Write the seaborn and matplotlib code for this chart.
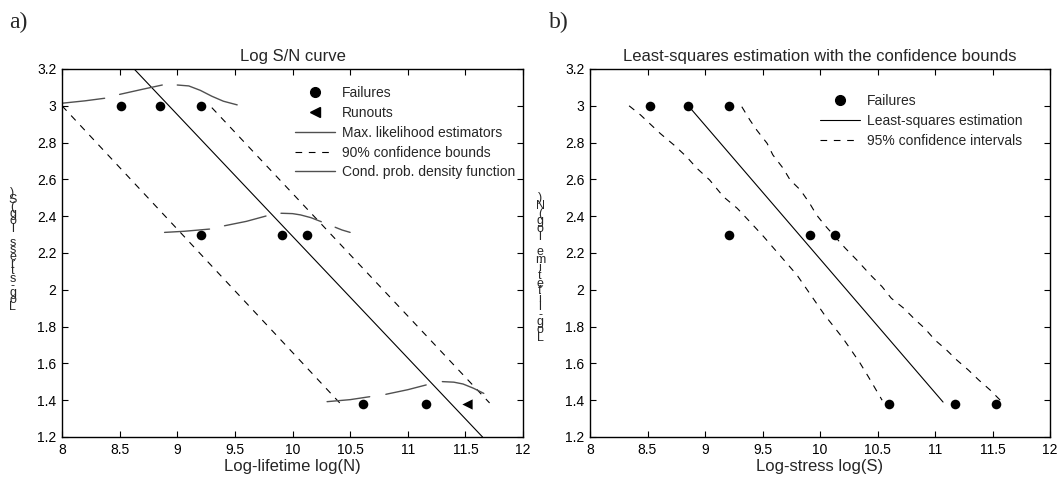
import matplotlib
matplotlib.use('Agg')
import matplotlib.pyplot as plt
import pandas as pd
import seaborn as sns
from matplotlib.lines import Line2D
from matplotlib.ticker import MultipleLocator, FuncFormatter

# ---- data
fail_x = [8.51, 8.85, 9.21, 9.21, 9.91, 10.13, 10.61, 11.16]
fail_y = [3.0, 3.0, 3.0, 2.3, 2.3, 2.3, 1.38, 1.38]
runout_x = [11.51]
runout_y = [1.38]

# panel a) max likelihood line and 90% bounds
ml_x = [8.626, 11.649]
ml_y = [3.2, 1.2]
lo90_x = [8.0, 10.41]
lo90_y = [3.0, 1.385]
hi90_x = [9.30, 11.71]
hi90_y = [2.99, 1.385]

# conditional pdf curves (three stress levels, drawn in broken pieces)
pdf_x = [8.00, 8.20, 8.37,
         8.50, 8.70, 8.87,
         9.00, 9.10, 9.20, 9.30, 9.40, 9.52,
         8.89, 9.06, 9.28,
         9.41, 9.60, 9.77,
         9.90, 10.00, 10.07, 10.16, 10.25,
         10.37, 10.43, 10.50,
         10.30, 10.50, 10.67,
         10.81, 11.00, 11.16,
         11.30, 11.40, 11.48, 11.57, 11.66]
pdf_y = [3.014, 3.027, 3.041,
         3.062, 3.090, 3.113,
         3.113, 3.108, 3.084, 3.052, 3.025, 3.005,
         2.312, 2.318, 2.330,
         2.348, 2.372, 2.401,
         2.416, 2.414, 2.407, 2.392, 2.370,
         2.340, 2.325, 2.312,
         1.392, 1.403, 1.419,
         1.432, 1.457, 1.483,
         1.501, 1.498, 1.488, 1.465, 1.437]
pdf_seg = [0]*3 + [1]*3 + [2]*6 + [3]*3 + [4]*3 + [5]*5 + [6]*3 + [7]*3 + [8]*3 + [9]*5

# panel b)
fail2_x = [8.52, 8.85, 9.21, 9.21, 9.91, 10.13, 10.60, 11.17, 11.53]
fail2_y = [3.0, 3.0, 3.0, 2.3, 2.3, 2.3, 1.38, 1.38, 1.38]
ls_x = [8.855, 11.07]
ls_y = [3.0, 1.39]
lo95_x = [8.34, 8.44, 8.61, 8.73, 8.84, 8.93, 9.04, 9.16, 9.28, 9.39, 9.51,
          9.80, 10.04, 10.12, 10.20, 10.28, 10.35, 10.42, 10.54]
lo95_y = [3.0, 2.95, 2.85, 2.787, 2.723, 2.66, 2.597, 2.506, 2.443, 2.37, 2.289,
          2.08, 1.863, 1.80, 1.736, 1.664, 1.60, 1.528, 1.40]
hi95_x = [9.32, 9.39, 9.45, 9.54, 9.59, 9.68, 9.74, 9.83, 9.91, 9.97, 10.04,
          10.22, 10.32, 10.44, 10.54, 10.62, 10.73, 10.83, 10.91, 11.0, 11.10,
          11.19, 11.29, 11.38, 11.48, 11.58]
hi95_y = [2.995, 2.923, 2.868, 2.796, 2.733, 2.66, 2.597, 2.542, 2.47, 2.407, 2.352,
          2.226, 2.162, 2.08, 2.017, 1.954, 1.899, 1.836, 1.791, 1.727, 1.673,
          1.618, 1.564, 1.51, 1.455, 1.392]

sns.set_style('ticks')
plt.rcParams['font.family'] = ['Liberation Sans', 'DejaVu Sans']

W, H = 1064, 487
fig = plt.figure(figsize=(W / 100, H / 100), dpi=100)
ax1 = fig.add_axes([62 / W, 1 - 437 / H, 461 / W, 368 / H])
ax2 = fig.add_axes([590 / W, 1 - 437 / H, 460 / W, 368 / H])

DASH = (0, (6, 6))
GRAY = '#505050'

# ---- panel a
sns.lineplot(x=ml_x, y=ml_y, ax=ax1, color='k', lw=0.8, sort=False, estimator=None)
sns.lineplot(x=lo90_x, y=lo90_y, ax=ax1, color='k', lw=0.8, linestyle=DASH, sort=False, estimator=None)
sns.lineplot(x=hi90_x, y=hi90_y, ax=ax1, color='k', lw=0.8, linestyle=DASH, sort=False, estimator=None)
pdf_df = pd.DataFrame({'x': pdf_x, 'y': pdf_y, 'seg': pdf_seg})
sns.lineplot(data=pdf_df, x='x', y='y', units='seg', estimator=None, sort=False,
             ax=ax1, color=GRAY, lw=1.0)
sns.scatterplot(x=fail_x, y=fail_y, ax=ax1, color='k', marker='o', s=48, linewidth=0, zorder=3)
sns.scatterplot(x=runout_x, y=runout_y, ax=ax1, color='k', marker='<', s=55, linewidth=0, zorder=3)

# ---- panel b
sns.lineplot(x=ls_x, y=ls_y, ax=ax2, color='k', lw=0.8, sort=False, estimator=None)
sns.lineplot(x=lo95_x, y=lo95_y, ax=ax2, color='k', lw=0.8, linestyle=DASH, sort=False, estimator=None)
sns.lineplot(x=hi95_x, y=hi95_y, ax=ax2, color='k', lw=0.8, linestyle=DASH, sort=False, estimator=None)
sns.scatterplot(x=fail2_x, y=fail2_y, ax=ax2, color='k', marker='o', s=48, linewidth=0, zorder=3)

fmt = FuncFormatter(lambda v, p: '%g' % round(v, 3))
for ax in (ax1, ax2):
    ax.set_xlim(8, 12)
    ax.set_ylim(1.2, 3.2)
    ax.xaxis.set_major_locator(MultipleLocator(0.5))
    ax.yaxis.set_major_locator(MultipleLocator(0.2))
    ax.xaxis.set_major_formatter(fmt)
    ax.yaxis.set_major_formatter(fmt)
    ax.tick_params(direction='in', top=True, right=True, length=4, width=0.8,
                   labelsize=10, pad=4, colors='k')
    for sp in ax.spines.values():
        sp.set_visible(True)
        sp.set_color('k')
        sp.set_linewidth(1.0)
    ax.set_ylabel('')

ax1.set_title('Log S/N curve', fontsize=12, pad=6)
ax2.set_title('Least-squares estimation with the confidence bounds', fontsize=12, pad=6)
ax1.set_xlabel('Log-lifetime log(N)', fontsize=12, labelpad=2)
ax2.set_xlabel('Log-stress log(S)', fontsize=12, labelpad=2)

# ---- legends
h1 = [Line2D([], [], color='k', marker='o', ls='none', ms=7),
      Line2D([], [], color='k', marker='<', ls='none', ms=7),
      Line2D([], [], color=GRAY, lw=1.0),
      Line2D([], [], color='k', lw=0.8, ls=DASH),
      Line2D([], [], color=GRAY, lw=1.0)]
l1 = ['Failures', 'Runouts', 'Max. likelihood estimators', '90% confidence bounds',
      'Cond. prob. density function']
ax1.legend(h1, l1, loc='upper left', bbox_to_anchor=(295 / W, 1 - 86 / H),
           bbox_transform=fig.transFigure, frameon=False, fontsize=10,
           borderpad=0, borderaxespad=0, handlelength=2.9, handletextpad=0.45,
           labelspacing=0.42)
h2 = [Line2D([], [], color='k', marker='o', ls='none', ms=7),
      Line2D([], [], color='k', lw=0.8),
      Line2D([], [], color='k', lw=0.8, ls=DASH)]
l2 = ['Failures', 'Least-squares estimation', '95% confidence intervals']
ax2.legend(h2, l2, loc='upper left', bbox_to_anchor=(820 / W, 1 - 94 / H),
           bbox_transform=fig.transFigure, frameon=False, fontsize=10,
           borderpad=0, borderaxespad=0, handlelength=2.9, handletextpad=0.45,
           labelspacing=0.42)

# ---- y labels: glyphs stacked upright, reading bottom to top
ylab1 = 'Log-stress log(S)'
ylab2 = 'Log-lifetime log(N)'
fig.text(12.5 / W, 1 - 250 / H, '\n'.join(reversed(ylab1)), ha='center', va='center',
         fontsize=9, linespacing=0.46, multialignment='center')
fig.text(540 / W, 1 - 268 / H, '\n'.join(reversed(ylab2)), ha='center', va='center',
         fontsize=9, linespacing=0.53, multialignment='center')

fig.text(9 / W, 1 - 22 / H, 'a)', family='Liberation Serif', fontsize=17, va='center', ha='left')
fig.text(549 / W, 1 - 22 / H, 'b)', family='Liberation Serif', fontsize=17, va='center', ha='left')

fig.savefig('out.png', dpi=100, facecolor='white')
